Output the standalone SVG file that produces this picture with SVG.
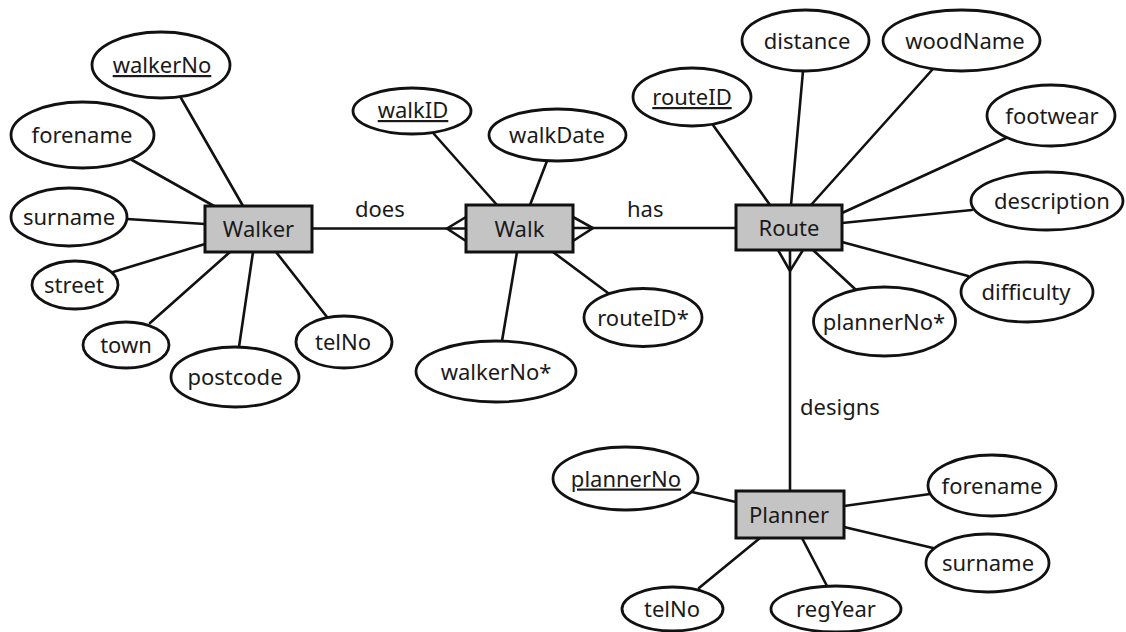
<svg xmlns="http://www.w3.org/2000/svg" width="1126" height="632" viewBox="0 0 1126 632">
<style>
  .ent { fill: #c4c4c4; stroke: #111; stroke-width: 3; }
  .att { fill: #fff; stroke: #111; stroke-width: 2.8; }
  .c { stroke: #111; stroke-width: 2.6; fill: none; stroke-linecap: round; stroke-linejoin: miter; }
  text { font-family: "Noto Sans", "Open Sans", sans-serif; font-size: 22px; fill: #1a1a1a; }
  .m { text-anchor: middle; }
  .pk { text-decoration: underline; }
</style>
<rect width="1126" height="632" fill="#fff"/>
<g id="connectors">
  <!-- Walker attributes -->
  <line class="c" x1="181" y1="98" x2="243" y2="206"/>
  <line class="c" x1="132" y1="160" x2="214" y2="206"/>
  <line class="c" x1="127" y1="219" x2="205" y2="224"/>
  <line class="c" x1="113" y1="272" x2="205" y2="244"/>
  <line class="c" x1="150" y1="323" x2="230" y2="252"/>
  <line class="c" x1="239" y1="347" x2="253" y2="252"/>
  <line class="c" x1="327" y1="317" x2="276" y2="252"/>
  <!-- does -->
  <line class="c" x1="312" y1="228.5" x2="466" y2="228.5"/>
  <path class="c" d="M466,217 L447,228.5 L466,241"/>
  <!-- Walk attributes -->
  <line class="c" x1="434" y1="134" x2="497" y2="205"/>
  <line class="c" x1="547" y1="161" x2="530" y2="205"/>
  <line class="c" x1="517" y1="252" x2="502" y2="341"/>
  <line class="c" x1="553" y1="252" x2="608" y2="293"/>
  <!-- has -->
  <line class="c" x1="573" y1="228" x2="736" y2="228"/>
  <path class="c" d="M573,217 L593,228 L573,241"/>
  <!-- Route attributes -->
  <line class="c" x1="713" y1="125" x2="770" y2="205"/>
  <line class="c" x1="803" y1="71" x2="791" y2="205"/>
  <line class="c" x1="932" y1="70" x2="811" y2="205"/>
  <line class="c" x1="1006" y1="138" x2="842" y2="213"/>
  <line class="c" x1="972" y1="210" x2="842" y2="223"/>
  <line class="c" x1="968" y1="276" x2="842" y2="242"/>
  <line class="c" x1="855" y1="289" x2="813" y2="250"/>
  <!-- designs -->
  <line class="c" x1="790" y1="250" x2="790" y2="491"/>
  <path class="c" d="M778,250 L790,271 L803,250"/>
  <!-- Planner attributes -->
  <line class="c" x1="692" y1="492" x2="736" y2="502"/>
  <line class="c" x1="699" y1="588" x2="760" y2="538"/>
  <line class="c" x1="802" y1="538" x2="827" y2="586"/>
  <line class="c" x1="844" y1="506" x2="930" y2="494"/>
  <line class="c" x1="844" y1="527" x2="933" y2="548"/>
  <!-- relationship labels -->
  <text x="355" y="217">does</text>
  <text x="627" y="217">has</text>
  <text x="800" y="415">designs</text>
</g>

<g id="walker">
  <rect class="ent" x="205" y="206" width="107" height="46"/>
  <text class="m" x="258.5" y="237">Walker</text>
</g>
<g id="walker-walkerNo"><ellipse class="att" cx="161" cy="65" rx="69" ry="33"/><text class="m pk" x="162" y="73">walkerNo</text></g>
<g id="walker-forename"><ellipse class="att" cx="82.5" cy="135" rx="71.5" ry="33"/><text class="m" x="82" y="143">forename</text></g>
<g id="walker-surname"><ellipse class="att" cx="69" cy="217" rx="58" ry="29"/><text class="m" x="69" y="225">surname</text></g>
<g id="walker-street"><ellipse class="att" cx="75" cy="285" rx="43" ry="24"/><text class="m" x="74" y="293">street</text></g>
<g id="walker-town"><ellipse class="att" cx="126" cy="345" rx="43" ry="23"/><text class="m" x="126" y="353">town</text></g>
<g id="walker-postcode"><ellipse class="att" cx="235" cy="377" rx="64" ry="30"/><text class="m" x="235" y="385">postcode</text></g>
<g id="walker-telNo"><ellipse class="att" cx="344" cy="342" rx="48" ry="26"/><text class="m" x="343" y="350">telNo</text></g>

<g id="walk">
  <rect class="ent" x="466" y="205" width="107" height="47"/>
  <text class="m" x="519.5" y="236.5">Walk</text>
</g>
<g id="walk-walkID"><ellipse class="att" cx="412" cy="111" rx="59" ry="23"/><text class="m pk" x="413" y="118">walkID</text></g>
<g id="walk-walkDate"><ellipse class="att" cx="557.5" cy="135" rx="68.5" ry="26"/><text class="m" x="557" y="143">walkDate</text></g>
<g id="walk-walkerNo"><ellipse class="att" cx="496" cy="371.5" rx="80" ry="30.5"/><text class="m" x="496" y="379.5">walkerNo*</text></g>
<g id="walk-routeID"><ellipse class="att" cx="643" cy="317.5" rx="59" ry="29"/><text class="m" x="643" y="325.5">routeID*</text></g>

<g id="route">
  <rect class="ent" x="736" y="205" width="106" height="45"/>
  <text class="m" x="789" y="235.5">Route</text>
</g>
<g id="route-routeID"><ellipse class="att" cx="692" cy="97" rx="59" ry="29"/><text class="m pk" x="692" y="105">routeID</text></g>
<g id="route-distance"><ellipse class="att" cx="805.5" cy="40.5" rx="63.5" ry="30.5"/><text class="m" x="807" y="48.5">distance</text></g>
<g id="route-woodName"><ellipse class="att" cx="961.5" cy="40.5" rx="78.5" ry="30.5"/><text class="m" x="965" y="48.5">woodName</text></g>
<g id="route-footwear"><ellipse class="att" cx="1051" cy="115.5" rx="64" ry="30.5"/><text class="m" x="1052" y="123.5">footwear</text></g>
<g id="route-description"><ellipse class="att" cx="1047" cy="201" rx="76" ry="29"/><text class="m" x="1052" y="209">description</text></g>
<g id="route-difficulty"><ellipse class="att" cx="1027" cy="292" rx="66" ry="30"/><text class="m" x="1026" y="300">difficulty</text></g>
<g id="route-plannerNo"><ellipse class="att" cx="884.5" cy="321.5" rx="71" ry="34.5"/><text class="m" x="884" y="329.5">plannerNo*</text></g>

<g id="planner">
  <rect class="ent" x="736" y="491" width="108" height="47"/>
  <text class="m" x="789" y="522.5">Planner</text>
</g>
<g id="planner-plannerNo"><ellipse class="att" cx="625.5" cy="478.5" rx="72.5" ry="31.5"/><text class="m pk" x="626" y="486.5">plannerNo</text></g>
<g id="planner-telNo"><ellipse class="att" cx="672.5" cy="609" rx="50.5" ry="22"/><text class="m" x="672" y="617">telNo</text></g>
<g id="planner-regYear"><ellipse class="att" cx="836" cy="609" rx="65" ry="23"/><text class="m" x="836" y="617">regYear</text></g>
<g id="planner-forename"><ellipse class="att" cx="992" cy="485.5" rx="64" ry="30.5"/><text class="m" x="992" y="493.5">forename</text></g>
<g id="planner-surname"><ellipse class="att" cx="987.5" cy="563" rx="61.5" ry="29"/><text class="m" x="988" y="571">surname</text></g>
</svg>
